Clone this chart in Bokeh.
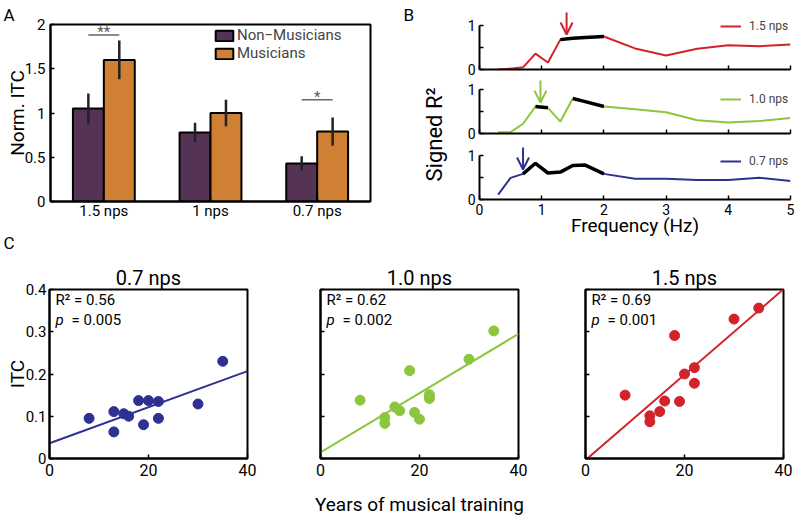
import numpy as np
from bokeh.plotting import figure
from bokeh.layouts import row, column
from bokeh.models import (Range1d, FixedTicker, Label, Legend, LegendItem,
                          Arrow, OpenHead, Title)
from bokeh.embed import file_html
from bokeh.resources import INLINE

FONT = "Roboto"

# ---------------- Panel A data ----------------
groups = ["1.5 nps", "1 nps", "0.7 nps"]
nonmus = [1.05, 0.78, 0.43]
nonmus_lo = [0.87, 0.67, 0.35]
nonmus_hi = [1.22, 0.89, 0.51]
mus = [1.60, 1.00, 0.79]
mus_lo = [1.38, 0.85, 0.63]
mus_hi = [1.82, 1.15, 0.95]
sig_groups = [1, 3]
sig_heights = [1.88, 1.15]
sig_marks = ["**", "*"]
a_yticks = [0, 0.5, 1, 1.5, 2]
a_ylabels = ["0", "0.5", "1", "1.5", "2"]

# ---------------- Panel B data ----------------
freq = [0.3, 0.5, 0.7, 0.9, 1.1, 1.3, 1.5, 1.7, 2, 2.5, 3, 3.5, 4, 4.5, 5]
r2_15 = [0.0, 0.02, 0.05, 0.36, 0.16, 0.68, 0.71, 0.73, 0.75, 0.48, 0.32, 0.47, 0.55, 0.53, 0.57]
r2_10 = [0.03, 0.03, 0.22, 0.61, 0.58, 0.27, 0.79, 0.72, 0.61, 0.55, 0.48, 0.30, 0.25, 0.28, 0.35]
r2_07 = [0.11, 0.49, 0.58, 0.82, 0.60, 0.62, 0.77, 0.78, 0.58, 0.47, 0.47, 0.44, 0.44, 0.49, 0.42]
sig_15 = [0, 0, 0, 0, 0, 1, 1, 1, 1, 0, 0, 0, 0, 0, 0]
sig_10 = [0, 0, 0, 1, 1, 0, 1, 1, 1, 0, 0, 0, 0, 0, 0]
sig_07 = [0, 0, 1, 1, 1, 1, 1, 1, 1, 0, 0, 0, 0, 0, 0]
peak_15, peak_10, peak_07 = 1.4, 0.98, 0.7
b_labels = ["1.5 nps", "1.0 nps", "0.7 nps"]
b_xticks = [0, 1, 2, 3, 4, 5]

# ---------------- Panel C data ----------------
years = [8, 13, 13, 15, 16, 18, 19, 20, 22, 22, 30, 35]
itc_07 = [0.095, 0.111, 0.063, 0.106, 0.100, 0.137, 0.080, 0.137, 0.135, 0.095, 0.129, 0.230]
itc_10 = [0.138, 0.083, 0.097, 0.122, 0.113, 0.208, 0.109, 0.093, 0.151, 0.142, 0.235, 0.302]
itc_15 = [0.150, 0.101, 0.087, 0.111, 0.136, 0.291, 0.135, 0.200, 0.215, 0.178, 0.330, 0.356]
c_titles = ["0.7 nps", "1.0 nps", "1.5 nps"]
c_r2 = ["0.56", "0.62", "0.69"]
c_p = ["0.005", "0.002", "0.001"]
c_yticks = [0, 0.1, 0.2, 0.3, 0.4]
c_ylabels = ["0", "0.1", "0.2", "0.3", "0.4"]
c_xticks = [0, 20, 40]
c_xlim = (0, 40)

PURPLE = "#553355"
ORANGE = "#CF8033"
RED = "#D2232A"
GREEN = "#8CC63F"
BLUE = "#2E3192"


def style_axis(ax, size):
    ax.major_label_text_font = FONT
    ax.major_label_text_font_size = size
    ax.major_label_text_color = "black"
    ax.axis_label_text_font = FONT
    ax.axis_label_text_font_style = "normal"
    ax.axis_label_text_color = "black"
    ax.axis_line_width = 2
    ax.axis_line_color = "black"
    ax.major_tick_line_width = 1.5
    ax.major_tick_line_color = "black"
    ax.major_tick_in = 4
    ax.major_tick_out = 0
    ax.minor_tick_line_width = 1.5
    ax.minor_tick_line_color = "black"
    ax.minor_tick_in = 4
    ax.minor_tick_out = 0


def style_title(t, size, align, offset, standoff):
    t.text_font = FONT
    t.text_font_size = size
    t.text_font_style = "normal"
    t.text_color = "black"
    t.align = align
    t.offset = offset
    t.standoff = standoff


def lab(p, x, y, text, size, style="normal"):
    p.add_layout(Label(x=x, y=y, x_units="screen", y_units="screen", text=text,
                       text_font=FONT, text_font_size=size,
                       text_font_style=style, text_color="black"))


# ================= Panel A =================
pa = figure(frame_width=320, frame_height=177, x_range=Range1d(0.5, 3.5),
            y_range=Range1d(0, 2), min_border_left=50, min_border_right=25,
            min_border_top=24, min_border_bottom=61,
            toolbar_location=None, output_backend="svg")
pa.grid.visible = False
pa.outline_line_color = "black"
pa.outline_line_width = 2
xpos = [1, 2, 3]
bw = 0.29
x_nm = [x - bw / 2 for x in xpos]
x_m = [x + bw / 2 for x in xpos]
r_nm = pa.vbar(x=x_nm, top=nonmus, width=bw, fill_color=PURPLE,
               line_color="black", line_width=2)
r_m = pa.vbar(x=x_m, top=mus, width=bw, fill_color=ORANGE,
              line_color="black", line_width=2)
pa.segment(x0=x_nm, y0=nonmus_lo, x1=x_nm, y1=nonmus_hi, line_color="#222222", line_width=2.5)
pa.segment(x0=x_m, y0=mus_lo, x1=x_m, y1=mus_hi, line_color="#222222", line_width=2.5)
sx0 = [g - bw / 2 for g in sig_groups]
sx1 = [g + bw / 2 for g in sig_groups]
pa.segment(x0=sx0, y0=sig_heights, x1=sx1, y1=sig_heights, line_color="#666666", line_width=1.5)
pa.text(x=sig_groups, y=sig_heights, text=sig_marks, text_align="center",
        text_baseline="alphabetic", y_offset=-3, text_font_size="15px",
        text_color="#555555", text_font={"value": FONT})

style_axis(pa.xaxis[0], "15px")
pa.xaxis[0].ticker = FixedTicker(ticks=xpos)
pa.xaxis[0].major_label_overrides = {x: g for x, g in zip(xpos, groups)}
pa.xaxis[0].major_label_standoff = 0
style_axis(pa.yaxis[0], "15px")
pa.yaxis[0].ticker = FixedTicker(ticks=a_yticks)
pa.yaxis[0].major_label_overrides = {t: s for t, s in zip(a_yticks, a_ylabels)}
pa.yaxis[0].major_label_standoff = 5
pa.yaxis[0].axis_label = "Norm. ITC"
pa.yaxis[0].axis_label_text_font_size = "19px"
pa.yaxis[0].axis_label_standoff = -7

pa.title.text = "A"
style_title(pa.title, "17px", "left", -47, 0)
t_c = Title(text="C")
style_title(t_c, "17px", "left", -47, 17)
pa.add_layout(t_c, "below")

leg_a = Legend(items=[LegendItem(label="Non\u2212Musicians", renderers=[r_nm]),
                      LegendItem(label="Musicians", renderers=[r_m])],
               location=(163, 139), glyph_width=22, glyph_height=13,
               label_height=13, label_standoff=2, spacing=0, padding=0, margin=0,
               label_text_font=FONT, label_text_font_size="15px",
               border_line_alpha=0, background_fill_alpha=0)
pa.add_layout(leg_a)

# ================= Panel B letter and shared y label =================
ps = figure(frame_width=2, frame_height=220, x_range=Range1d(0, 1),
            y_range=Range1d(0, 1), min_border_left=51, min_border_right=2,
            min_border_top=24, min_border_bottom=18,
            toolbar_location=None, output_backend="svg")
ps.axis.visible = False
ps.grid.visible = False
ps.outline_line_color = None
ps.title.text = "B"
style_title(ps.title, "17px", "left", -43, 0)
t_sr = Title(text="Signed R\u00b2")
style_title(t_sr, "22px", "center", 0, 0)
ps.add_layout(t_sr, "left")


# ================= Panel B =================
def b_panel(vals, sig, peak, color, label, fh, top, bottom, yend, legy, show_x):
    p = figure(frame_width=311, frame_height=fh, x_range=Range1d(0, 5),
               y_range=Range1d(0, yend), min_border_left=29, min_border_right=6,
               min_border_top=top, min_border_bottom=bottom,
               toolbar_location=None, output_backend="svg")
    p.grid.visible = False
    p.outline_line_color = None
    r = p.line(freq, vals, line_color=color, line_width=2)
    sig_vals = [v if s else np.nan for v, s in zip(vals, sig)]
    p.line(freq, sig_vals, line_color="black", line_width=3.5)
    tip = float(np.interp(peak, freq, vals)) + 0.1
    p.add_layout(Arrow(end=OpenHead(size=12, line_color=color, line_width=2),
                       x_start=peak, y_start=tip + 0.5, x_end=peak, y_end=tip,
                       line_color=color, line_width=2))
    style_axis(p.yaxis[0], "14px")
    p.yaxis[0].ticker = FixedTicker(ticks=[0, 1], minor_ticks=[0.5])
    p.yaxis[0].bounds = (0, 1)
    p.yaxis[0].major_label_standoff = 4
    style_axis(p.xaxis[0], "14px")
    if show_x:
        p.xaxis[0].ticker = FixedTicker(ticks=b_xticks)
        p.xaxis[0].major_label_standoff = 4
        p.xaxis[0].axis_label = "Frequency (Hz)"
        p.xaxis[0].axis_label_text_font_size = "19px"
        p.xaxis[0].axis_label_standoff = -4
    else:
        p.xaxis[0].ticker = FixedTicker(ticks=[], minor_ticks=b_xticks)
    leg = Legend(items=[LegendItem(label=label, renderers=[r])],
                 location=(241, legy), glyph_width=21, glyph_height=14,
                 label_height=14, label_standoff=8, padding=0, margin=0,
                 label_text_font=FONT, label_text_font_size="12px",
                 border_line_alpha=0, background_fill_alpha=0)
    p.add_layout(leg)
    return p


pb1 = b_panel(r2_15, sig_15, peak_15, RED, b_labels[0], 58, 11, 9, 1.32, 36, False)
pb2 = b_panel(r2_10, sig_10, peak_10, GREEN, b_labels[1], 54, 1, 9, 1.22, 27, False)
pb3 = b_panel(r2_07, sig_07, peak_07, BLUE, b_labels[2], 53, 4, 63, 1.2, 31, True)


# ================= Panel C =================
def c_panel(vals, color, title, r2, pv, left, right, first, middle):
    p = figure(frame_width=198, frame_height=169, x_range=Range1d(*c_xlim),
               y_range=Range1d(0, 0.4), min_border_left=left, min_border_right=right,
               min_border_top=27, min_border_bottom=56,
               toolbar_location=None, output_backend="svg")
    p.grid.visible = False
    p.outline_line_color = "black"
    p.outline_line_width = 2
    p.title.text = title
    style_title(p.title, "20px", "center", 0, 0)
    slope, inter = np.polyfit(years, vals, 1)
    xs = list(c_xlim)
    p.line(xs, [inter + slope * x for x in xs], line_color=color, line_width=2)
    p.scatter(years, vals, size=10, fill_color=color, line_color=color)
    style_axis(p.yaxis[0], "15px")
    if first:
        p.yaxis[0].ticker = FixedTicker(ticks=c_yticks)
        p.yaxis[0].major_label_overrides = {t: s for t, s in zip(c_yticks, c_ylabels)}
        p.yaxis[0].axis_label = "ITC"
        p.yaxis[0].axis_label_text_font_size = "19px"
        p.yaxis[0].axis_label_standoff = -6
    else:
        p.yaxis[0].ticker = FixedTicker(ticks=[], minor_ticks=c_yticks)
    p.yaxis[0].major_label_standoff = 3
    style_axis(p.xaxis[0], "16px")
    p.xaxis[0].ticker = FixedTicker(ticks=c_xticks)
    p.xaxis[0].major_label_standoff = 5
    if middle:
        p.xaxis[0].axis_label = "Years of musical training"
        p.xaxis[0].axis_label_text_font_size = "19px"
        p.xaxis[0].axis_label_standoff = 14
    lab(p, 6, 150, "R\u00b2 = " + r2, "15px")
    lab(p, 6, 130, "p", "15px", style="italic")
    lab(p, 22, 130, "= " + pv, "15px")
    return p


pc1 = c_panel(itc_07, BLUE, c_titles[0], c_r2[0], c_p[0], 49, 28, True, False)
pc2 = c_panel(itc_10, GREEN, c_titles[1], c_r2[1], c_p[1], 45, 30, False, True)
pc3 = c_panel(itc_15, RED, c_titles[2], c_r2[2], c_p[2], 37, 13, False, False)

layout = column(row(pa, ps, column(pb1, pb2, pb3, spacing=0), spacing=0),
                row(pc1, pc2, pc3, spacing=0), spacing=0)

with open("out.html", "w") as f:
    f.write(file_html(layout, INLINE))
